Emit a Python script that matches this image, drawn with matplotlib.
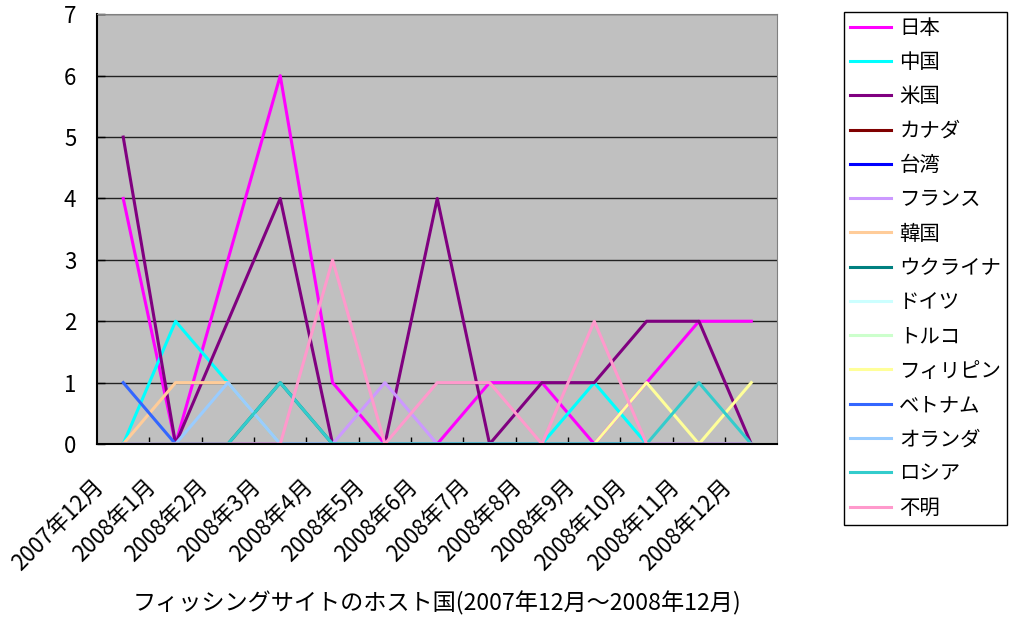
import numpy as np
import matplotlib
matplotlib.use('Agg')
import matplotlib.pyplot as plt
import matplotlib.transforms as mtransforms

plt.rcParams['font.family'] = ['Noto Sans CJK JP', 'DejaVu Sans']

months = ['2007年12月', '2008年1月', '2008年2月', '2008年3月', '2008年4月',
          '2008年5月', '2008年6月', '2008年7月', '2008年8月', '2008年9月',
          '2008年10月', '2008年11月', '2008年12月']

countries = ['日本', '中国', '米国', 'カナダ', '台湾', 'フランス', '韓国',
             'ウクライナ', 'ドイツ', 'トルコ', 'フィリピン', 'ベトナム',
             'オランダ', 'ロシア', '不明']

japan       = [4, 0, 3, 6, 1, 0, 0, 1, 1, 0, 1, 2, 2]
china       = [0, 2, 1, 0, 0, 0, 0, 0, 0, 1, 0, 0, 0]
usa         = [5, 0, 2, 4, 0, 0, 4, 0, 1, 1, 2, 2, 0]
canada      = [0, 0, 0, 0, 0, 0, 0, 0, 0, 0, 0, 0, 0]
taiwan      = [0, 0, 0, 0, 0, 0, 0, 0, 0, 0, 0, 0, 0]
france      = [0, 0, 0, 0, 0, 1, 0, 0, 0, 0, 0, 0, 0]
korea       = [0, 1, 1, 0, 0, 0, 0, 0, 0, 0, 0, 0, 0]
ukraine     = [0, 0, 0, 1, 0, 0, 0, 0, 0, 0, 0, 0, 0]
germany     = [0, 0, 0, 0, 0, 0, 0, 0, 0, 0, 0, 0, 0]
turkey      = [0, 0, 0, 0, 0, 0, 0, 0, 0, 0, 0, 0, 0]
philippines = [0, 0, 0, 0, 0, 0, 0, 0, 0, 0, 1, 0, 1]
vietnam     = [1, 0, 0, 0, 0, 0, 0, 0, 0, 0, 0, 0, 0]
netherlands = [0, 0, 1, 0, 0, 0, 0, 0, 0, 0, 0, 0, 0]
russia      = [0, 0, 0, 1, 0, 0, 0, 0, 0, 0, 0, 1, 0]
unknown     = [0, 0, 0, 0, 3, 0, 1, 1, 0, 2, 0, 0, 0]

series = [japan, china, usa, canada, taiwan, france, korea, ukraine,
          germany, turkey, philippines, vietnam, netherlands, russia, unknown]

colors = ['#FF00FF', '#00FFFF', '#800080', '#800000', '#0000FF', '#CC99FF',
          '#FFCC99', '#008080', '#CCFFFF', '#CCFFCC', '#FFFF99', '#3366FF',
          '#99CCFF', '#33CCCC', '#FF99CC']

fig = plt.figure(figsize=(10.11, 6.21), dpi=100)
ax = fig.add_axes([0.096, 0.285, 0.673, 0.692])
ax.set_facecolor('#C0C0C0')

x = np.arange(len(months))
for name, vals, c in zip(countries, series, colors):
    ax.plot(x, vals, color=c, lw=2.2, label=name)

ax.set_xlim(-0.5, len(months) - 0.5)
ax.set_ylim(0, 7)
ax.set_yticks(range(8))
ax.yaxis.grid(True, color='#222222', lw=1)
ax.set_axisbelow(True)

# month labels: rotated text placed a bit left of each point (Excel style)
ax.set_xticks([])
ax.set_xticks(np.arange(0.5, len(months) - 1, 1), minor=True)
ax.tick_params(axis='x', which='minor', direction='in', length=5, width=1)
shift = mtransforms.ScaledTranslation(-11 / 72, -22 / 72, fig.dpi_scale_trans)
for xi, m in zip(x, months):
    ax.text(xi, 0, m, transform=ax.get_xaxis_transform() + shift,
            rotation=45, ha='right', va='top', fontsize=16)

ax.tick_params(axis='y', direction='in', length=6, width=1, labelsize=16, pad=15)

for s in ['top', 'right']:
    ax.spines[s].set_color('#808080')
for s in ['left', 'bottom']:
    ax.spines[s].set_color('black')
    ax.spines[s].set_linewidth(1.5)

ax.set_xlabel('フィッシングサイトのホスト国(2007年12月～2008年12月)',
              fontsize=16.7)
ax.xaxis.set_label_coords(0.5, -0.342)

leg = fig.legend(loc='upper left', bbox_to_anchor=(0.835, 0.981),
                 fontsize=14.7, handlelength=2.0, handletextpad=0.4,
                 labelspacing=0.65, borderaxespad=0, borderpad=0.3,
                 fancybox=False, edgecolor='black', framealpha=1)
leg.get_frame().set_linewidth(1)

plt.savefig('out.png', dpi=100)
